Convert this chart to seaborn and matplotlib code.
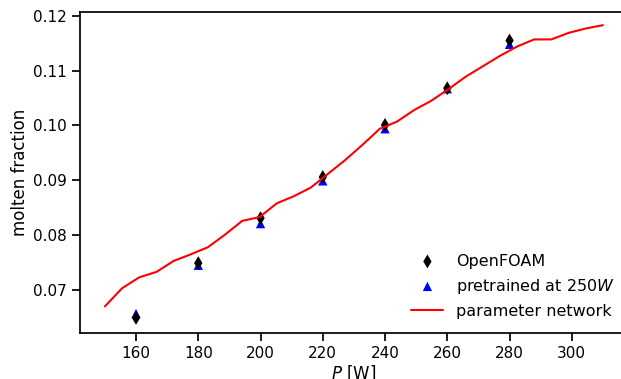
import matplotlib
matplotlib.use("Agg")
import matplotlib.pyplot as plt
import seaborn as sns
import pandas as pd

# data
power_pts = [160, 180, 200, 220, 240, 260, 280]
openfoam = [0.0649, 0.0749, 0.0831, 0.0906, 0.1001, 0.1068, 0.1155]
pretrained = [0.0657, 0.0745, 0.0821, 0.0899, 0.0994, 0.1067, 0.1148]
net_power = [150.0, 155.5, 161.0, 166.6, 172.1, 177.6, 183.1, 188.6, 194.1, 199.7,
             205.2, 210.7, 216.2, 221.7, 227.2, 232.8, 238.3, 243.8, 249.3, 254.8,
             260.3, 265.9, 271.4, 276.9, 282.4, 287.9, 293.4, 299.0, 304.5, 310.0]
net_frac = [0.0670, 0.0703, 0.0723, 0.0733, 0.0753, 0.0765, 0.0778, 0.0801, 0.0826, 0.0833,
            0.0858, 0.0871, 0.0887, 0.0912, 0.0937, 0.0965, 0.0994, 0.1007, 0.1028, 0.1045,
            0.1066, 0.1089, 0.1108, 0.1127, 0.1144, 0.1157, 0.1157, 0.1169, 0.1177, 0.1183]

sns.set_theme(style="ticks", context="notebook",
              rc={"axes.edgecolor": "black", "text.color": "black",
                  "axes.labelcolor": "black", "xtick.color": "black",
                  "ytick.color": "black"})
plt.rcParams['font.family'] = ['DejaVu Sans']

fig = plt.figure(figsize=(6.21, 3.79), dpi=100)
ax = fig.add_axes([0.1288, 0.1214, 1.011 - 0.1288, 0.9683 - 0.1214])

df_pts = pd.DataFrame({"P": power_pts, "of": openfoam, "pre": pretrained})
df_net = pd.DataFrame({"P": net_power, "frac": net_frac})

sns.lineplot(data=df_net, x="P", y="frac", color="red", linewidth=1.5, ax=ax,
             label="parameter network")
sns.scatterplot(data=df_pts, x="P", y="pre", marker="^", color="blue", s=45,
                edgecolor="none", ax=ax, label="pretrained at 250$W$")
sns.scatterplot(data=df_pts, x="P", y="of", marker="d", color="black", s=50,
                edgecolor="none", ax=ax, label="OpenFOAM")

ax.set_xlim(142, 318)
ax.set_ylim(0.06215, 0.1207)
ax.set_xticks([160, 180, 200, 220, 240, 260, 280, 300])
ax.set_yticks([0.07, 0.08, 0.09, 0.10, 0.11, 0.12])
ax.set_yticklabels(["0.07", "0.08", "0.09", "0.10", "0.11", "0.12"])
ax.set_xlabel("$P$ [W]", fontsize=12, labelpad=2)
ax.set_ylabel("molten fraction", fontsize=12, labelpad=3)
ax.tick_params(labelsize=11)

h, lab = ax.get_legend_handles_labels()
order = [2, 1, 0]
ax.legend([h[i] for i in order], [lab[i] for i in order], loc="lower right",
          frameon=False, fontsize=11.5, bbox_to_anchor=(1.003, 0.0))

fig.savefig("out.png", dpi=100)
